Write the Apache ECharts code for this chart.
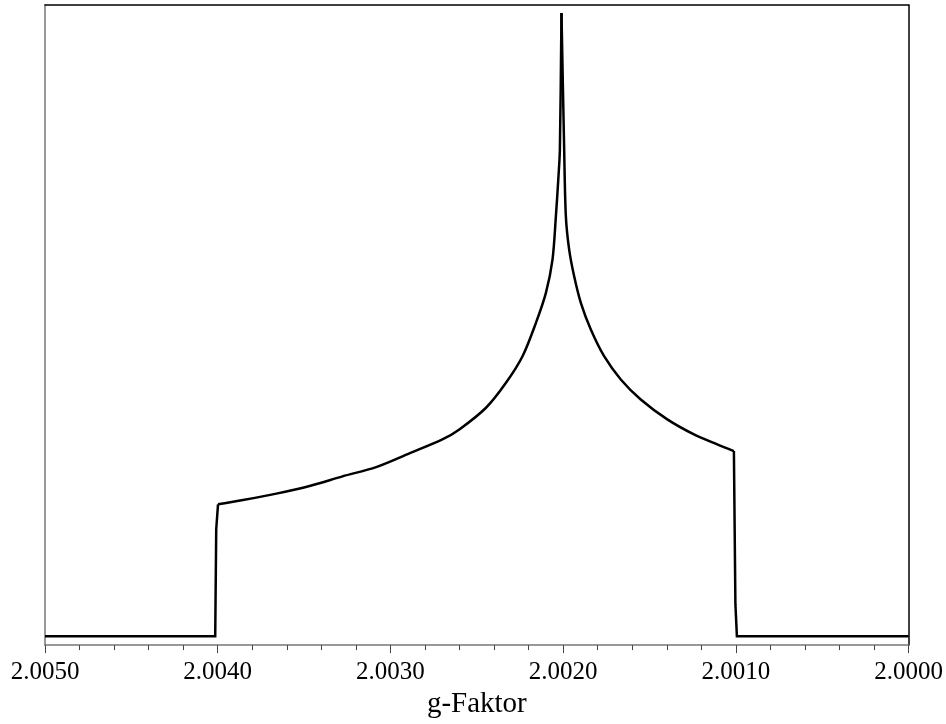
<!DOCTYPE html>
<html>
<head>
<meta charset="utf-8">
<script src="https://cdn.jsdelivr.net/npm/echarts@6/dist/echarts.min.js"></script>
<style>
html,body{margin:0;padding:0;background:#fff;}
#chart{width:946px;height:724px;}
</style>
</head>
<body>
<div id="chart"></div>
<script>
// g-factor values (x) and absorption intensity (arbitrary units, peak = 100)
const gValues = [
  2.0050, 2.0040145, 2.0040087, 2.0039983, 2.0038538, 2.0036607, 2.0034682,
  2.0032775, 2.0030827, 2.0028902, 2.0026994, 2.0026012, 2.0024468, 2.0023312,
  2.0022353, 2.0021578, 2.0021, 2.0020618, 2.0020422, 2.0020272, 2.0020191,
  2.0020098,
  2.0019942, 2.0019844, 2.0019653, 2.0019364, 2.0018977, 2.0018399, 2.001763,
  2.0016665, 2.0015509, 2.0013971, 2.0012428, 2.0011081, 2.0010116, 2.0010029,
  2.0009942, 2.0000
];
const intensity = [
  0, 0, 17.15, 21.15, 21.84, 22.87, 24.09,
  25.64, 27.13, 29.33, 31.57, 33.17, 36.65, 40.66,
  44.92, 50.27, 55.08, 60.42, 67.36, 73.77, 78.04,
  100,
  78.04, 67.36, 62.02, 57.74, 53.48, 49.2, 44.92,
  41.19, 37.98, 34.78, 32.37, 30.77, 29.70, 5.13,
  0, 0
];
const xTickLabels = ['2.0000', '2.0010', '2.0020', '2.0030', '2.0040', '2.0050'];
const xAxisName = 'g-Faktor';

const allPts = gValues.map((g, i) => [g, intensity[i]]);
const PEAK = 21, LEFT_TOP = 3, RIGHT_TOP = 34;
// straight parts: baselines and the two steps
const stepData = allPts.slice(0, LEFT_TOP + 1).concat([[null, null]], allPts.slice(RIGHT_TOP));
// smooth branches
const leftBranch = allPts.slice(LEFT_TOP, PEAK + 1);
const rightBranch = allPts.slice(PEAK, RIGHT_TOP + 1);

const chart = echarts.init(document.getElementById('chart'), null, {renderer: 'canvas'});
const serif = 'Liberation Serif, Times New Roman, serif';
const lineStyle = {color: '#000', width: 2.5, join: 'miter'};
function branch(data) {
  return {type: 'line', data: data, showSymbol: false, symbol: 'none',
          smooth: 0.3, lineStyle: lineStyle};
}
chart.setOption({
  animation: false,
  backgroundColor: '#fff',
  grid: {left: 45, right: 36, top: 5, height: 641, containLabel: false},
  xAxis: [{
    type: 'value',
    inverse: true,
    min: 2.000,
    max: 2.005,
    interval: 0.001,
    name: xAxisName,
    nameLocation: 'middle',
    nameGap: 42,
    nameTextStyle: {fontFamily: serif, fontSize: 29, color: '#000'},
    axisLine: {show: true, onZero: false, lineStyle: {color: '#777', width: 1.5}},
    axisTick: {show: true, length: 8, lineStyle: {color: '#444', width: 1}},
    minorTick: {show: true, splitNumber: 5, length: 5, lineStyle: {color: '#444', width: 1}},
    splitLine: {show: false},
    minorSplitLine: {show: false},
    axisLabel: {
      fontFamily: serif, fontSize: 25, color: '#000', margin: 15,
      formatter: function (v) {
        const s = v.toFixed(4);
        return xTickLabels.indexOf(s) >= 0 ? s : '';
      }
    }
  }, {
    type: 'value',
    position: 'top',
    min: 2.000, max: 2.005,
    inverse: true,
    axisLine: {show: true, onZero: false, lineStyle: {color: '#000', width: 1.5}},
    axisTick: {show: false}, axisLabel: {show: false}, splitLine: {show: false}
  }],
  yAxis: [{
    type: 'value',
    min: -1.44,
    max: 101.28,
    axisLine: {show: true, onZero: false, lineStyle: {color: '#777', width: 1.5}},
    axisTick: {show: false},
    axisLabel: {show: false},
    splitLine: {show: false}
  }, {
    type: 'value',
    position: 'right',
    min: -1.44, max: 101.28,
    axisLine: {show: true, onZero: false, lineStyle: {color: '#000', width: 1.5}},
    axisTick: {show: false}, axisLabel: {show: false}, splitLine: {show: false}
  }],
  series: [
    {type: 'line', data: stepData, showSymbol: false, symbol: 'none',
     connectNulls: false, lineStyle: lineStyle},
    branch(leftBranch),
    branch(rightBranch)
  ]
});
</script>
</body>
</html>
